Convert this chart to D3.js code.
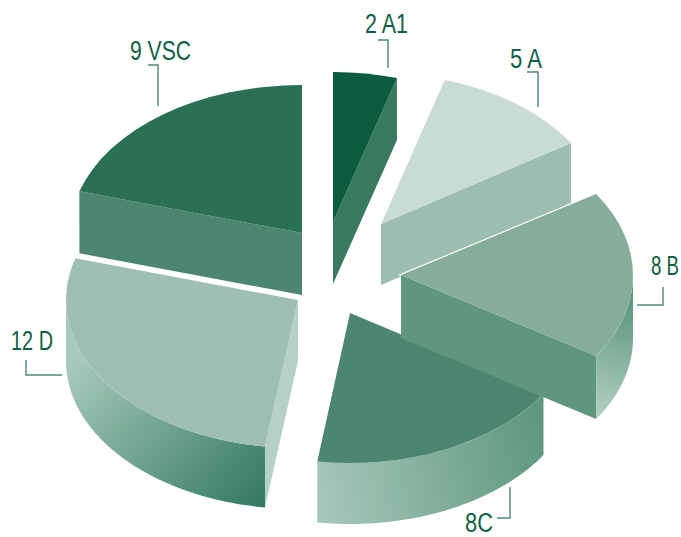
<!DOCTYPE html>
<html><head><meta charset="utf-8">
<script src="https://cdn.jsdelivr.net/npm/d3@7"></script>
<style>html,body{margin:0;padding:0;background:#fff}svg{display:block}</style>
</head><body><div id="c"></div>
<script>
const categories = ["2 A1","5 A","8 B","8C","12 D","9 VSC"];
const counts = [2,5,8,8,12,9];
const topColors = ["#0b5c3e","#c8dcd4","#86ad9c","#4d8670","#9fbfb2","#2a7055"];
const faceColors = ["#38795f","#9dbdb0","#5f967f","#4d8670","#b5d0c5","#4c8570"];

const W=681,H=537,DEPTH=[62,61,63,61,61,62];
const radiiX=[227,226,232,230,232,232];
const radiiY=[150,150,150,150,148,148];
const apex=[[333,222],[381,224],[401,275],[350,313],[298,300],[302,233]];
const drawOrder=[0,5,1,4,3,2];
const wallGrad={
  2:{x1:632,y1:300,x2:597,y2:415,stops:["#5a957d","#b3cfc3"]},
  3:{x1:317,y1:480,x2:543,y2:430,stops:["#a6c6b9","#5e9780"]},
  4:{x1:90,y1:340,x2:265,y2:500,stops:["#a8cabc","#347a60"]}
};
const labelPos=[
  {x:386.5,y:33,w:43},{x:526,y:68,w:32},{x:665,y:275,w:28},
  {x:479,y:531.5,w:28},{x:32,y:350,w:42},{x:160.5,y:60,w:61}];
const leaders=[
  [[378,40],[388,40],[388,68]],
  [[527,72],[538,72],[538,107]],
  [[663,287],[663,305],[637,305]],
  [[497,518],[510,518],[510,487]],
  [[26,360],[26,375],[62,375]],
  [[148,65],[158,65],[158,106]]];

const svg=d3.select("#c").append("svg").attr("width",W).attr("height",H);
const defs=svg.append("defs");
Object.entries(wallGrad).forEach(([i,g])=>{
  const lg=defs.append("linearGradient").attr("id","wall"+i).attr("gradientUnits","userSpaceOnUse")
    .attr("x1",g.x1).attr("y1",g.y1).attr("x2",g.x2).attr("y2",g.y2);
  lg.selectAll("stop").data(g.stops).join("stop")
    .attr("offset",(d,k)=>k).attr("stop-color",d=>d);
});

const arcs=d3.pie().sort(null).startAngle(0).endAngle(2*Math.PI)(counts);
const arcGen=d3.arc().innerRadius(0).outerRadius(d=>radiiX[d.index]);
const line=d3.line();
const pt=(i,a,dz=0)=>[apex[i][0]+radiiX[i]*Math.sin(a),apex[i][1]-radiiY[i]*Math.cos(a)+dz];

drawOrder.forEach(i=>{
  const s=arcs[i], g=svg.append("g"), A=apex[i], D=DEPTH[i];
  const topTf=`translate(${A[0]},${A[1]}) scale(1,${radiiY[i]/radiiX[i]})`;
  if(i===2){
    g.append("path").attr("d",arcGen(s)).attr("transform",topTf)
     .attr("fill","#fff").attr("stroke","#fff").attr("stroke-width",2.4)
     .attr("vector-effect","non-scaling-stroke");
  }
  const face=a=>line([A,pt(i,a),pt(i,a,D),[A[0],A[1]+D]])+"Z";
  if(Math.sin(s.endAngle)>0) g.append("path").attr("d",face(s.endAngle)).attr("fill",faceColors[i]);
  if(Math.sin(s.startAngle)<0) g.append("path").attr("d",face(s.startAngle)).attr("fill",faceColors[i]);
  const a0=Math.max(s.startAngle,Math.PI/2), a1=Math.min(s.endAngle,3*Math.PI/2);
  if(a1>a0){
    const ts=d3.range(0,41).map(k=>a0+(a1-a0)*k/40);
    const pts=ts.map(a=>pt(i,a)).concat(ts.slice().reverse().map(a=>pt(i,a,D)));
    g.append("path").attr("d",line(pts)+"Z").attr("fill","url(#wall"+i+")");
  }
  g.append("path").attr("d",arcGen(s)).attr("transform",topTf).attr("fill",topColors[i]);
});

svg.append("g").selectAll("path").data(leaders).join("path")
  .attr("d",d=>line(d)).attr("fill","none").attr("stroke","#4c8a72").attr("stroke-width",1.4);
svg.append("g").selectAll("text").data(categories).join("text")
  .text(d=>d)
  .attr("text-anchor","middle").attr("fill","#0f6045")
  .attr("font-family","'Liberation Sans Narrow','Liberation Sans',sans-serif").attr("font-size",27)
  .attr("transform",function(d,i){
    const p=labelPos[i], sx=p.w/this.getComputedTextLength();
    return `translate(${p.x},${p.y}) scale(${sx},1)`;
  });
</script></body></html>
